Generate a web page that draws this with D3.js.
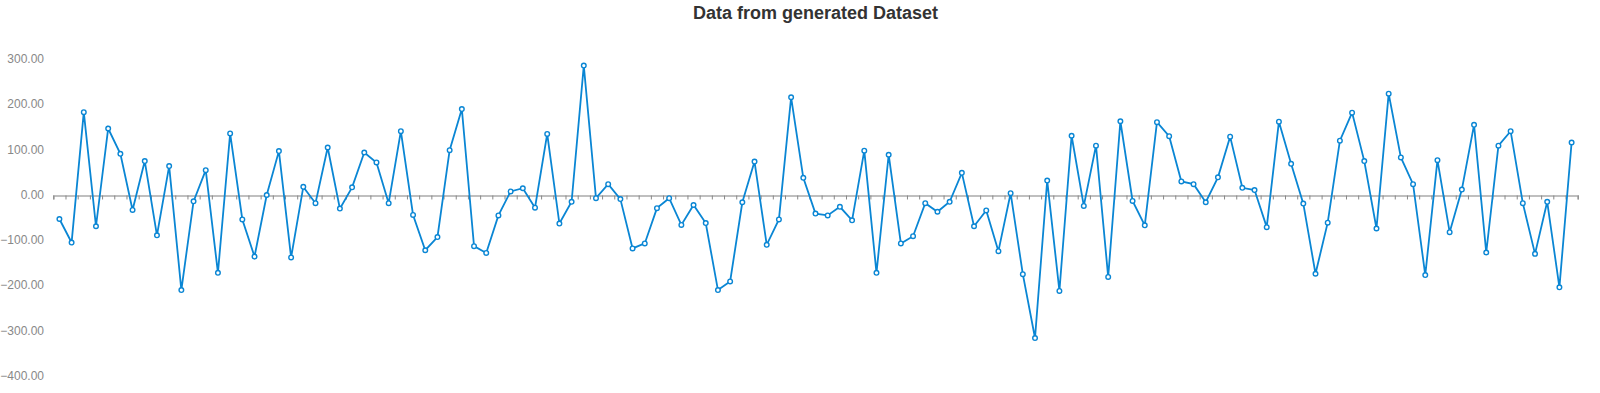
<!DOCTYPE html>
<html>
<head>
<meta charset="utf-8">
<script src="https://cdn.jsdelivr.net/npm/d3@7"></script>
<style>
  body { margin: 0; background: #fff; }
  svg { font-family: "Liberation Sans", Arial, sans-serif; }
  .axis.y text { fill: #888; font-size: 12px; }
  .axis.x path { stroke: #aaa; stroke-width: 1.5; }
  .axis.x line { stroke: #888; }
</style>
</head>
<body>
<div id="viz"></div>
<script>
// values
var values = [
  -52, -104, 184, -68, 148, 92, -32, 76, -88, 65,
  -209, -13, 56, -171, 137, -53, -135, 1, 98, -137,
  19, -17, 106, -29, 18, 95, 73, -17, 142, -43,
  -121, -92, 100, 191, -112, -127, -44, 9, 16, -27,
  136, -62, -14, 287, -6, 25, -8, -117, -106, -28,
  -6, -65, -21, -61, -209, -190, -15, 75, -109, -53,
  217, 39, -40, -44, -25, -55, 99, -171, 90, -106,
  -90, -17, -36, -14, 50, -68, -33, -123, 5, -174,
  -315, 33, -211, 132, -23, 110, -180, 164, -12, -66,
  162, 131, 31, 25, -15, 40, 130, 17, 12, -70,
  163, 70, -18, -173, -60, 121, 183, 76, -73, 225,
  84, 25, -176, 78, -81, 13, 156, -126, 110, 142,
  -17, -129, -14, -203, 117
];
var yTicks = [300, 200, 100, 0, -100, -200, -300, -400];
var title = "Data from generated Dataset";

var margin = {top: 59.7, right: 1577.7, bottom: 376.5, left: 53.3},
    width = 1600,
    height = 393;

var svg = d3.select('#viz').append('svg')
    .attr("width", width)
    .attr("height", height);

// x: one slot per value, ticks at slot boundaries
var x = d3.scaleLinear()
    .domain([0, values.length])
    .range([margin.left, margin.right]);

var y = d3.scaleLinear()
    .domain([-400, 300])
    .range([margin.bottom, margin.top]);

svg.append("text")
    .attr("x", (margin.left + margin.right) / 2)
    .attr("y", 19)
    .attr("text-anchor", "middle")
    .style("font-size", "18px")
    .style("font-weight", "bold")
    .style("fill", "#333")
    .text(title);

svg.append('g')
    .attr("class", "axis y")
    .attr("transform", "translate(47,0)")
    .call(d3.axisLeft(y).tickValues(yTicks).tickSize(0).tickPadding(3)
        .tickFormat(d3.format(".2f")))
    .call(function(g) { g.select(".domain").remove(); })
    .selectAll("text")
        .attr("dy", "0.25em");

svg.append('g')
    .attr("class", "axis x")
    .attr("transform", "translate(0," + y(0) + ")")
    .call(d3.axisBottom(x).tickValues(d3.range(values.length + 1))
        .tickSizeOuter(0).tickSize(4).tickFormat(""));

var line = d3.line()
    .x(function(d, i) { return x(i + 0.5); })
    .y(function(d) { return y(d); });

svg.append("path")
    .datum(values)
    .attr("d", line)
    .attr("fill", "none")
    .attr("stroke", "#0a86d4")
    .attr("stroke-width", 1.8);

svg.selectAll("circle.dot")
    .data(values)
    .enter().append("circle")
    .attr("class", "dot")
    .attr("cx", function(d, i) { return x(i + 0.5); })
    .attr("cy", function(d) { return y(d); })
    .attr("r", 2.3)
    .attr("fill", "#fff")
    .attr("stroke", "#0a86d4")
    .attr("stroke-width", 1.4);
</script>
</body>
</html>
